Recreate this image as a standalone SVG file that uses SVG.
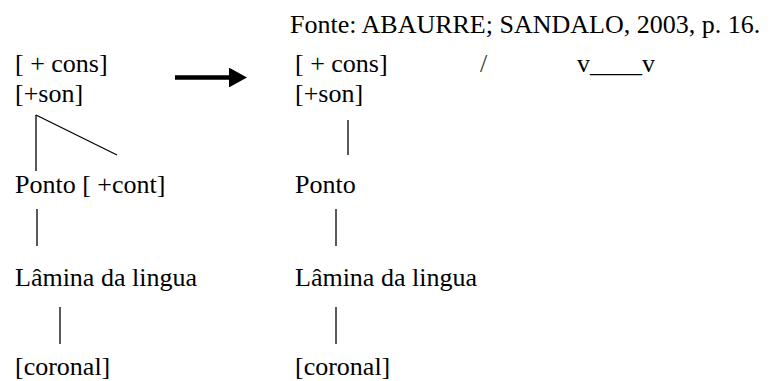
<svg xmlns="http://www.w3.org/2000/svg" width="777" height="381" viewBox="0 0 777 381">
<style>
.t{font-family:'Liberation Serif','Times New Roman',serif;font-size:26px;fill:#000}
.ln{stroke:#000;stroke-width:1.3;fill:none}
</style>
<defs>
<marker id="ah" markerWidth="4" markerHeight="4.4" refX="0" refY="2.2" orient="auto" markerUnits="strokeWidth" viewBox="0 0 4 4.4">
<path d="M0,0 L4,2.2 L0,4.4 Z" fill="#000"/>
</marker>
</defs>
<rect width="777" height="381" fill="#fff"/>
<g font-family="Liberation Serif, Times New Roman, serif" font-size="26">
<g id="fonte"><text class="t" x="290" y="33">Fonte: ABAURRE; SANDALO, 2003, p. 16.</text></g>
<g id="left-root"><text class="t" x="15" y="72">[ + cons]</text><text class="t" x="15" y="102">[+son]</text></g>
<g id="left-ponto"><text class="t" x="15" y="193">Ponto [ +cont]</text></g>
<g id="left-lamina"><text class="t" x="15" y="286">Lâmina da lingua</text></g>
<g id="left-coronal"><text class="t" x="15" y="375">[coronal]</text></g>
<g id="right-root"><text class="t" x="295" y="72">[ + cons]</text><text class="t" x="295" y="102">[+son]</text></g>
<g id="context"><text class="t" x="480" y="72" style="fill:#333">/</text><text class="t" x="577" y="72">v____v</text></g>
<g id="right-ponto"><text class="t" x="295" y="193">Ponto</text></g>
<g id="right-lamina"><text class="t" x="295" y="286">Lâmina da lingua</text></g>
<g id="right-coronal"><text class="t" x="295" y="375">[coronal]</text></g>
</g>
<g id="connectors">
<line x1="175" y1="77.5" x2="229" y2="77.5" stroke="#000" stroke-width="4.5" marker-end="url(#ah)"/>
<line class="ln" x1="36" y1="115" x2="36" y2="171"/>
<line class="ln" x1="36" y1="115" x2="117" y2="155"/>
<line class="ln" x1="37" y1="209" x2="37" y2="246"/>
<line class="ln" x1="60" y1="307" x2="60" y2="344"/>
<line class="ln" x1="348" y1="120" x2="348" y2="155"/>
<line class="ln" x1="336" y1="209" x2="336" y2="246"/>
<line class="ln" x1="336" y1="307" x2="336" y2="344"/>
</g>
</svg>
